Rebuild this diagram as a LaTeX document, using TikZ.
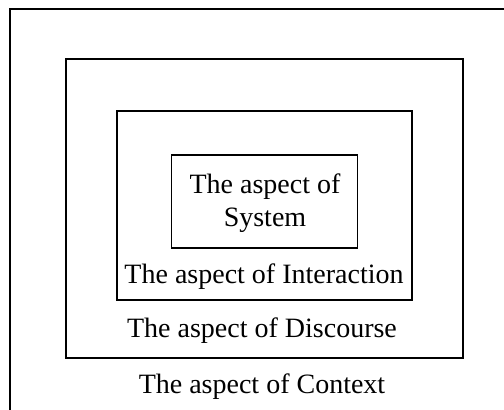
\documentclass[tikz,border=0pt]{standalone}
\usepackage{fontspec}
\setmainfont{Liberation Serif}
\begin{document}
\begin{tikzpicture}[x=1bp,y=-1bp,
  box/.style={draw, line width=1.8bp, inner sep=0pt},
  lbl/.style={anchor=base, inner sep=0pt, font=\fontsize{28bp}{33bp}\selectfont}]
\useasboundingbox (0,0) rectangle (504,409);
% outer (context) frame, cropped at right and bottom
\coordinate (cbl) at (10,410);
\coordinate (ctl) at (10,9);
\coordinate (ctr) at (505,9);
\draw[line width=1.8bp] (cbl) -- (ctl) -- (ctr);
% boxes
\node[box, minimum width=397bp, minimum height=299bp] (disc) at (264.5,208.8) {};
\node[box, minimum width=295bp, minimum height=189bp] (inter) at (264.5,205.8) {};
\node[box, minimum width=186bp, minimum height=93bp] (sys) at (264.5,201.5) {};
% labels
\node[lbl] (t1) at (265,193) {The aspect of};
\node[lbl] (t2) at (265,226) {System};
\node[lbl] (t3) at (264,283) {The aspect of Interaction};
\node[lbl] (t4) at (262,337) {The aspect of Discourse};
\node[lbl] (t5) at (262,393) {The aspect of Context};
\end{tikzpicture}
\end{document}
